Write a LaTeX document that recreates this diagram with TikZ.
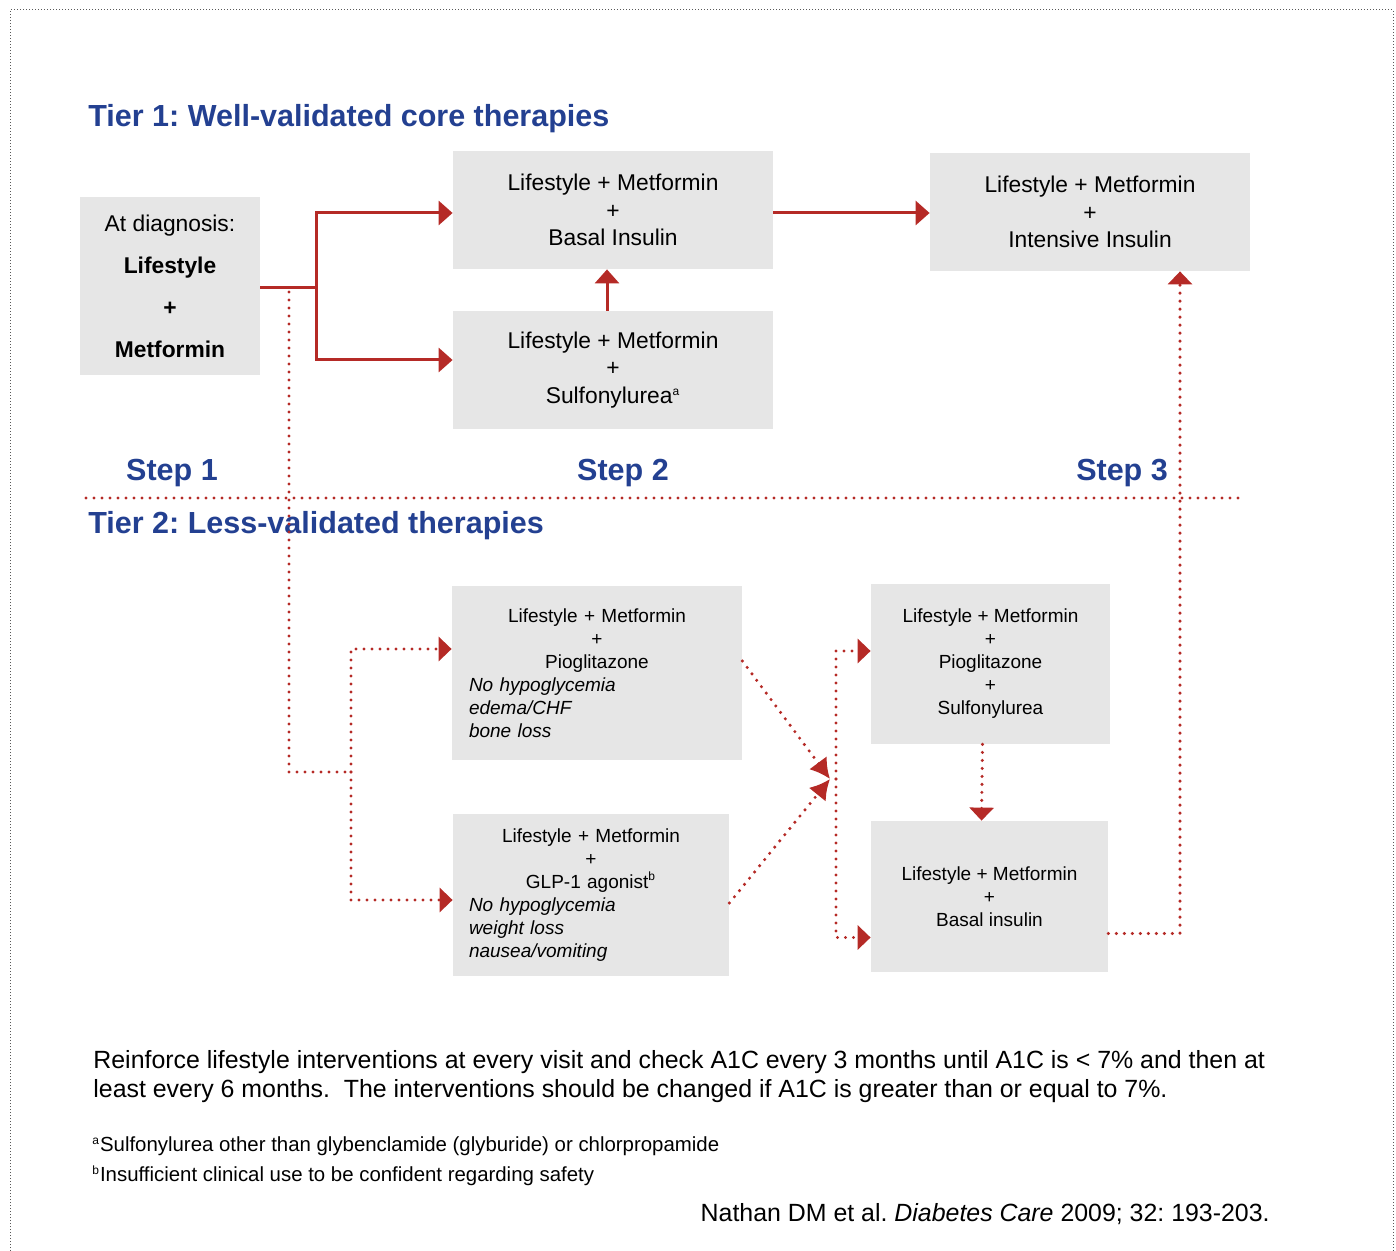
\documentclass[tikz,border=0pt]{standalone}
\usepackage{fontspec}
\setmainfont{Liberation Sans}
\usepackage{tikz}
\usetikzlibrary{arrows.meta}
\definecolor{tierblue}{RGB}{35,64,145}
\definecolor{arrred}{RGB}{181,42,38}
\definecolor{boxgray}{RGB}{230,230,230}
\newcommand{\fnmark}[1]{\textsuperscript{\fontsize{6}{6}\selectfont #1}}
\frenchspacing

\begin{document}
\begin{tikzpicture}[x=0.5pt, y=-0.5pt,
    box/.style={fill=boxgray, inner sep=0pt, align=center},
    tone/.style={font=\fontsize{11.4}{13.75}\selectfont},
    ttwo/.style={font=\fontsize{9.5}{11.5}\selectfont},
    title/.style={font=\fontsize{15.25}{18}\selectfont\bfseries, text=tierblue, inner sep=0pt},
    solidarr/.style={draw=arrred, line width=1.5pt, -{Triangle[length=7pt, width=12pt]}},
    dotline/.style={draw=arrred, line width=1.7pt, line cap=round, dash pattern=on 0pt off 4pt},
    dotarr/.style={dotline, -{Triangle[length=6.5pt, width=12pt]}},
    dotlatex/.style={dotline, -{Latex[length=10pt, width=11pt]}}]
    \useasboundingbox (0,0) rectangle (1396,1251);
    \draw[gray!70!black, line width=0.5pt, dash pattern=on 0.5pt off 1pt] (10,1251) -- (10,10) -- (1393,10) -- (1393,1251);

    \node[title, anchor=west] (tier1) at (88,119) {Tier 1: Well-validated core therapies};
    \node[title, anchor=west] (tier2) at (88,526) {Tier 2: Less-validated therapies};
    \node[title] (step1) at (172,473) {Step 1};
    \node[title] (step2) at (623,473) {Step 2};
    \node[title] (step3) at (1122,473) {Step 3};

    \node[box, minimum width=90pt, minimum height=89pt, font=\fontsize{11.4}{21}\selectfont] (diag) at (170,286)
        {At diagnosis:\\\textbf{Lifestyle}\\\textbf{+}\\\textbf{Metformin}};
    \node[box, tone, minimum width=160pt, minimum height=59pt] (basal) at (613,210)
        {Lifestyle + Metformin\\+\\Basal Insulin};
    \node[box, tone, minimum width=160pt, minimum height=59pt] (su) at (613,370)
        {Lifestyle + Metformin\\+\\Sulfonylurea\fnmark{a}};
    \node[box, tone, minimum width=160pt, minimum height=59pt] (intens) at (1090,212)
        {Lifestyle + Metformin\\+\\Intensive Insulin};

    \node[box, ttwo, minimum width=145pt, minimum height=87pt, text width=128pt] (pio) at (597,673)
        {{\centering Lifestyle + Metformin\\+\\Pioglitazone\par}%
         {\raggedright\itshape No hypoglycemia\\edema/CHF\\bone loss\par}};
    \node[box, ttwo, minimum width=138pt, minimum height=81pt, text width=122pt] (glp) at (591,895)
        {{\centering Lifestyle + Metformin\\+\\GLP-1 agonist\fnmark{b}\par}%
         {\raggedright\itshape No hypoglycemia\\weight loss\\nausea/vomiting\par}};
    \node[box, ttwo, minimum width=119.5pt, minimum height=80pt] (psu) at (990.5,664)
        {Lifestyle + Metformin\\+\\Pioglitazone\\+\\Sulfonylurea};
    \node[box, ttwo, minimum width=118.5pt, minimum height=75.5pt] (bas) at (989.5,896.5)
        {Lifestyle + Metformin\\+\\Basal insulin};

    \coordinate (fork) at (316,288);
    \draw[arrred, line width=1.5pt] (diag.east |- fork) -- (fork);
    \draw[solidarr] (fork) |- ([yshift=-1.5pt]basal.west);
    \draw[solidarr] (fork) |- ([yshift=5pt]su.west);
    \draw[solidarr] ([xshift=-3pt]su.north) -- ([xshift=-3pt]basal.south);
    \draw[solidarr] ([yshift=-1.5pt]basal.east) -- ([yshift=-1.5pt]basal.east -| intens.west);

    \draw[dotline] (86,498) -- (1242,498);

    \coordinate (dtop) at (289,292);
    \coordinate (split) at (351,772);
    \coordinate (meet) at (830,779);
    \coordinate (col) at (836,779);
    \draw[dotline] (dtop) |- (split);
    \draw[dotarr] (split) |- ([yshift=12pt]pio.west);
    \draw[dotarr] (split) |- ([yshift=-2.5pt]glp.west);
    \draw[dotlatex] ([yshift=6pt]pio.east) -- (meet);
    \draw[dotlatex] ([yshift=-4pt]glp.east) -- (meet);
    \draw[dotarr] (col) |- ([yshift=6.5pt]psu.west);
    \draw[dotarr] (col) |- ([yshift=-20.5pt]bas.west);
    \draw[dotarr] ([xshift=-4pt]psu.south) -- ([xshift=-4pt]bas.north);
    \draw[dotarr] ([yshift=-18.5pt]bas.east) -| ([xshift=45pt]intens.south);

    \node[anchor=north west, align=left, inner sep=0pt, font=\fontsize{12.45}{14.5}\selectfont] (note) at (93,1050)
        {Reinforce lifestyle interventions at every visit and check A1C every 3 months until A1C is < 7\% and then at\\
         least every 6 months.\ \ The interventions should be changed if A1C is greater than or equal to 7\%.};
    \node[anchor=west, inner sep=0pt, font=\fontsize{10.2}{11}\selectfont] (fna) at (92,1146)
        {\fnmark{a}Sulfonylurea other than glybenclamide (glyburide) or chlorpropamide};
    \node[anchor=west, inner sep=0pt, font=\fontsize{10.2}{11}\selectfont] (fnb) at (92,1176)
        {\fnmark{b}Insufficient clinical use to be confident regarding safety};
    \node[anchor=east, inner sep=0pt, font=\fontsize{12.45}{13}\selectfont] (cite) at (1270,1214)
        {Nathan DM et al. \textit{Diabetes Care} 2009; 32: 193-203.};
\end{tikzpicture}
\end{document}
